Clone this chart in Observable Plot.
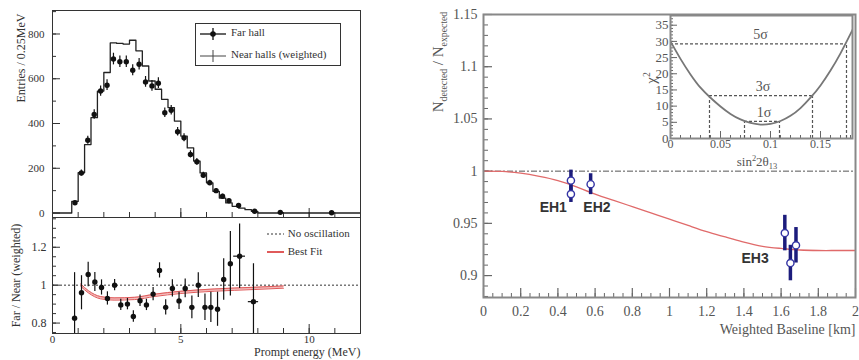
<!DOCTYPE html>
<html><head><meta charset="utf-8">
<script src="https://cdn.jsdelivr.net/npm/d3@7"></script>
<script src="https://cdn.jsdelivr.net/npm/@observablehq/plot@0.6"></script>
<style>
body{margin:0;background:#fff;}
#wrap{position:relative;width:859px;height:360px;overflow:hidden;font-family:"Liberation Serif","DejaVu Serif",serif;color:#333;background:#fff;}
.rot{position:absolute;transform:translate(-50%,-50%) rotate(-90deg);white-space:nowrap;}
.lab{position:absolute;white-space:nowrap;}
sub,sup{font-size:65%;}
</style></head><body><div id="wrap"></div>
<script>
// ---------- DATA ----------
// Left top: near halls (weighted) histogram, bin low edges (MeV) and counts
const nearEdges  = [0, 0.75, 1.0, 1.25, 1.5, 1.75, 2.0, 2.25, 2.5, 2.75, 3.0, 3.25, 3.5, 3.75, 4.0, 4.25, 4.5, 4.75, 5.0, 5.25, 5.5, 5.75, 6.0, 6.25, 6.5, 6.75, 7.0, 7.25, 7.5, 7.75, 8.0];
const nearCounts = [0, 52, 180, 306, 426, 545, 628, 760, 758, 755, 772, 725, 657, 590, 553, 508, 471, 411, 344, 291, 232, 179, 135, 97, 67, 45, 30, 22, 15, 7, 0];
// Far hall points
const farE   = [0.875,1.125,1.375,1.625,1.875,2.125,2.375,2.625,2.875,3.125,3.375,3.625,3.875,4.125,4.375,4.625,4.875,5.125,5.375,5.625,5.875,6.125,6.375,6.625,6.875,7.25,7.875,8.875,10.875];
const farN   = [46,179,325,440,545,571,688,676,676,638,665,586,568,580,448,459,363,336,262,229,169,135,100,75,55,34,8,3,1];
const farErr = [7,13,18,21,23,24,26,26,26,25,26,24,24,24,21,21,19,18,16,15,13,12,10,9,7,6,3,2,1];
const entryTicks = [0,200,400,600,800];
// Left bottom: Far/Near ratio
const ratioE   = [0.86,1.13,1.39,1.65,1.91,2.14,2.42,2.66,2.92,3.15,3.41,3.66,3.92,4.17,4.41,4.67,4.93,5.17,5.43,5.68,5.94,6.17,6.43,6.67,6.93,7.29,7.83];
const ratioV   = [0.826,0.96,1.056,1.017,0.988,0.93,1.0,0.896,0.90,0.835,0.918,0.896,0.953,1.078,0.883,0.983,0.917,0.983,0.883,1.0,0.883,0.883,0.873,1.03,1.113,1.153,0.913];
const ratioErr = [0.24,0.09,0.065,0.05,0.04,0.035,0.03,0.03,0.03,0.03,0.03,0.03,0.035,0.04,0.04,0.045,0.045,0.05,0.06,0.065,0.07,0.08,0.09,0.11,0.17,0.17,0.2];
const ratioHalfBin = [0,0,0,0,0,0,0,0,0,0,0,0,0,0,0,0,0,0,0,0,0,0,0,0,0,0.23,0.2];
const fitE = [1.1,1.4,1.87,2.4,3.2,3.96,5.0,6.3,7.86,9.0];
const fitV = [1.0,0.965,0.934,0.927,0.93,0.946,0.962,0.974,0.983,0.99];
const ratioTicks = [0.8,1,1.2];
const energyTicks = [0,5,10];
// Right: N detected / N expected vs baseline
const curveL = [0,0.1,0.2,0.3,0.4,0.5,0.6,0.7,0.8,0.9,1.0,1.1,1.2,1.3,1.4,1.5,1.6,1.7,1.8,1.9,2.0];
const curveR = [1,0.9997,0.998,0.995,0.991,0.985,0.978,0.972,0.966,0.960,0.954,0.948,0.942,0.937,0.932,0.928,0.926,0.9245,0.924,0.924,0.924];
const hallL   = [0.47,0.47,0.576,1.62,1.65,1.68];
const hallV   = [0.991,0.978,0.9875,0.9407,0.912,0.929];
const hallErr = [0.010,0.008,0.010,0.017,0.017,0.017];
const hallNames = ["EH1","EH2","EH3"];
const hallNameL = [0.375,0.61,1.46];
const hallNameV = [0.965,0.965,0.916];
const baseTicks = [0,0.2,0.4,0.6,0.8,1,1.2,1.4,1.6,1.8,2];
const ratioRTicks = [0.9,0.95,1,1.05,1.1,1.15];
// Inset: chi2 vs sin^2 2theta13
const chiS = [0,0.01,0.02,0.03,0.04,0.05,0.06,0.07,0.08,0.09,0.1,0.11,0.12,0.13,0.14,0.15,0.16,0.17,0.18,0.182];
const chiV = [30,24.6,19.8,15.7,12.6,9.9,7.6,5.9,4.8,4.3,4.5,5.4,7.0,9.4,12.6,16.4,21,26.3,32.3,33.6];
const sigmaNames = ["1σ","3σ","5σ"];
const sigmaChi = [5.26,13.26,29.26];
const sigmaLo = [0.074,0.039,0];
const sigmaHi = [0.109,0.142,0.176];
const chiTicks = [0,5,10,15,20,25,30,35];
const s2Ticks = [0,0.05,0.1,0.15];

// ---------- HELPERS ----------
const wrap = document.getElementById("wrap");
const serif = "'Liberation Serif','DejaVu Serif',serif";
const fmt = d3.format("~g");
function steps(a,b,s){const o=[];for(let i=0;a+i*s<=b+1e-9;i++)o.push(+(a+i*s).toFixed(6));return o;}
function put(node,left,top){node.style.position="absolute";node.style.left=left+"px";node.style.top=top+"px";wrap.appendChild(node);return node;}
function html(s,left,top,cls,style){const d=document.createElement("div");d.className=cls||"lab";d.innerHTML=s;if(style)d.style.cssText+=style;put(d,left,top);return d;}

// ---------- LEFT TOP ----------
{
  const M={l:52,t:10,r:5,b:5,w:365,h:222};
  const xd=[0,12], yd=[-20,905];
  const px=(xd[1]-xd[0])/(M.w-M.l-M.r), py=(yd[1]-yd[0])/(M.h-M.t-M.b);
  const near=nearEdges.map((e,i)=>({x:e,y:nearCounts[i]})).concat([{x:12,y:0}]);
  const far=farE.map((e,i)=>({x:e,y:farN[i],err:farErr[i]}));
  const p=Plot.plot({
    width:M.w,height:M.h,marginLeft:M.l,marginTop:M.t,marginRight:M.r,marginBottom:M.b,
    style:{fontFamily:serif,fontSize:"11px",color:"#333",background:"transparent"},
    x:{domain:xd,axis:null,label:null}, y:{domain:yd,label:null},
    marks:[
      Plot.axisY({ticks:entryTicks,tickSize:0,tickPadding:8,tickFormat:fmt,label:null}),
      Plot.ruleY(entryTicks,{x1:0,x2:8*px,stroke:"#333"}),
      Plot.ruleY(steps(100,900,100),{x1:0,x2:4*px,stroke:"#333"}),
      Plot.ruleX(steps(1,11,1),{y1:yd[0],y2:yd[0]+5*py,stroke:"#333"}),
      Plot.ruleX([5,10],{y1:yd[0],y2:yd[0]+9*py,stroke:"#333"}),
      Plot.line(near,{x:"x",y:"y",curve:"step-after",stroke:"#222",strokeWidth:1.3}),
      Plot.ruleX(far,{x:"x",y1:d=>d.y-d.err,y2:d=>d.y+d.err,stroke:"#111",strokeWidth:1.2}),
      Plot.dot(far,{x:"x",y:"y",r:2.7,fill:"#111"}),
      Plot.text(["Entries / 0.25MeV"],{frameAnchor:"top-left",dx:-36,dy:3,rotate:-90,textAnchor:"end",text:d=>d,fontSize:12,fill:"#333"}),
      Plot.frame({stroke:"#333"})
    ]
  });
  put(p,0,0);
  // legend box
  html(
    `<div style="position:absolute;left:4px;top:3px;"><svg width="30" height="14"><line x1="0" y1="7" x2="26" y2="7" stroke="#111" stroke-width="1.3"/><line x1="13" y1="1" x2="13" y2="13" stroke="#111" stroke-width="1.3"/><circle cx="13" cy="7" r="2.8" fill="#111"/></svg></div>
     <div style="position:absolute;left:35px;top:2px;font-size:11px;">Far hall</div>
     <div style="position:absolute;left:4px;top:25px;"><svg width="30" height="14"><line x1="0" y1="7" x2="26" y2="7" stroke="#444" stroke-width="1"/><line x1="13" y1="1" x2="13" y2="13" stroke="#444" stroke-width="1"/></svg></div>
     <div style="position:absolute;left:35px;top:24px;font-size:11px;">Near halls (weighted)</div>`,
    195,23,"lab","width:146px;height:43px;border:1.3px solid #333;box-sizing:border-box;");
}

// ---------- LEFT BOTTOM ----------
{
  const M={l:52,t:5,r:5,b:29,w:365,h:150};
  const xd=[0,12], yd=[0.745,1.357];
  const px=(xd[1]-xd[0])/(M.w-M.l-M.r), py=(yd[1]-yd[0])/(M.h-M.t-M.b);
  const pts=ratioE.map((e,i)=>({x:e,y:ratioV[i],err:ratioErr[i],hb:ratioHalfBin[i]}));
  const fit=fitE.map((e,i)=>({x:e,y:fitV[i]}));
  const p=Plot.plot({
    width:M.w,height:M.h,marginLeft:M.l,marginTop:M.t,marginRight:M.r,marginBottom:M.b,
    style:{fontFamily:serif,fontSize:"12px",color:"#333",background:"transparent"},
    x:{domain:xd,label:null}, y:{domain:yd,label:null},
    marks:[
      Plot.axisY({ticks:ratioTicks,tickSize:0,tickPadding:6,tickFormat:fmt,label:null}),
      Plot.axisX({ticks:energyTicks,tickSize:0,tickPadding:2,tickFormat:fmt,label:null,fontSize:11}),
      Plot.ruleY(ratioTicks,{x1:0,x2:8*px,stroke:"#333"}),
      Plot.ruleY(steps(0.75,1.35,0.05),{x1:0,x2:4*px,stroke:"#333"}),
      Plot.ruleX(steps(1,11,1),{y1:yd[0],y2:yd[0]+5*py,stroke:"#333"}),
      Plot.ruleX([5,10],{y1:yd[0],y2:yd[0]+9*py,stroke:"#333"}),
      Plot.ruleY([1],{stroke:"#333",strokeDasharray:"2,2"}),
      Plot.areaY(fit,{x:"x",y1:d=>d.y-0.006,y2:d=>d.y+0.006,curve:"monotone-x",fill:"#f2b8b8"}),
      Plot.line(fit,{x:"x",y:d=>d.y-0.006,curve:"monotone-x",stroke:"#e05a5a",strokeWidth:1}),
      Plot.line(fit,{x:"x",y:d=>d.y+0.006,curve:"monotone-x",stroke:"#e05a5a",strokeWidth:1}),
      Plot.ruleX(pts,{x:"x",y1:d=>d.y-d.err,y2:d=>d.y+d.err,stroke:"#111",strokeWidth:1.2,clip:true}),
      Plot.ruleY(pts.filter(d=>d.hb>0),{y:"y",x1:d=>d.x-d.hb,x2:d=>d.x+d.hb,stroke:"#111",strokeWidth:1.2}),
      Plot.dot(pts,{x:"x",y:"y",r:2.7,fill:"#111"}),
      Plot.text(["Far / Near (weighted)"],{frameAnchor:"left",dx:-36,rotate:-90,textAnchor:"middle",text:d=>d,fontSize:12,fill:"#333"}),
      Plot.text(["Prompt energy (MeV)"],{frameAnchor:"bottom-right",dy:22,textAnchor:"end",text:d=>d,fontSize:12,fill:"#333"}),
      Plot.frame({stroke:"#333"})
    ]
  });
  put(p,0,212);
  html(`<svg width="18" height="6" style="vertical-align:middle"><line x1="0" y1="3" x2="17" y2="3" stroke="#333" stroke-dasharray="2,2"/></svg> No oscillation`,267,227,"lab","font-size:11px;");
  html(`<svg width="18" height="6" style="vertical-align:middle"><line x1="0" y1="3" x2="17" y2="3" stroke="#e05a5a" stroke-width="2"/></svg> Best Fit`,267,245,"lab","font-size:11px;");
}

// ---------- RIGHT MAIN ----------
{
  const M={l:63,t:14,r:4,b:63,w:439,h:360};
  const xd=[0,2], yd=[0.879,1.15];
  const px=(xd[1]-xd[0])/(M.w-M.l-M.r), py=(yd[1]-yd[0])/(M.h-M.t-M.b);
  const curve=curveL.map((l,i)=>({x:l,y:curveR[i]}));
  const halls=hallL.map((l,i)=>({x:l,y:hallV[i],err:hallErr[i]}));
  const names=hallNames.map((n,i)=>({n,x:hallNameL[i],y:hallNameV[i]}));
  const p=Plot.plot({
    width:M.w,height:M.h,marginLeft:M.l,marginTop:M.t,marginRight:M.r,marginBottom:M.b,
    style:{fontFamily:serif,fontSize:"14px",color:"#555",background:"transparent"},
    x:{domain:xd,label:null}, y:{domain:yd,label:null},
    marks:[
      Plot.axisY({ticks:ratioRTicks,tickSize:0,tickPadding:6,tickFormat:fmt,label:null}),
      Plot.axisX({ticks:baseTicks,tickSize:0,tickPadding:9,tickFormat:fmt,label:null}),
      Plot.ruleY(ratioRTicks,{x1:0,x2:9*px,stroke:"#666",strokeWidth:1.2}),
      Plot.ruleY(steps(0.88,1.15,0.01),{x1:0,x2:5*px,stroke:"#666"}),
      Plot.ruleX(baseTicks,{y1:yd[0],y2:yd[0]+9*py,stroke:"#666",strokeWidth:1.2}),
      Plot.ruleX(steps(0,2,0.05),{y1:yd[0],y2:yd[0]+4*py,stroke:"#666"}),
      Plot.ruleY([1],{stroke:"#555",strokeDasharray:"6,2,2,2"}),
      Plot.line(curve,{x:"x",y:"y",curve:"natural",stroke:"#e06a6a",strokeWidth:1.3}),
      Plot.ruleX(halls,{x:"x",y1:d=>d.y-d.err,y2:d=>d.y+d.err,stroke:"#1c1c7c",strokeWidth:3.5}),
      Plot.dot(halls,{x:"x",y:"y",r:3.6,fill:"#fff",stroke:"#3434a4",strokeWidth:1.4}),
      Plot.text(names,{x:"x",y:"y",text:"n",fontFamily:"'Liberation Sans',Arial,sans-serif",fontWeight:"bold",fontSize:14,fill:"#333"}),
      Plot.text(["Weighted Baseline [km]"],{frameAnchor:"bottom-right",dy:36,textAnchor:"end",text:d=>d,fontSize:14,fill:"#555"}),
      Plot.frame({stroke:"#888",strokeWidth:2})
    ]
  });
  put(p,420,0);
  html(`N<sub>detected</sub> / N<sub>expected</sub>`,439,62,"rot","font-size:15px;color:#555;");
}

// ---------- INSET ----------
{
  const M={l:40,t:15,r:4,b:27,w:226,h:165};
  const xd=[0,0.182], yd=[0,38];
  const px=(xd[1]-xd[0])/(M.w-M.l-M.r), py=(yd[1]-yd[0])/(M.h-M.t-M.b);
  const chi=chiS.map((s,i)=>({x:s,y:chiV[i]}));
  const lv=sigmaNames.map((n,i)=>({n,y:sigmaChi[i],lo:sigmaLo[i],hi:sigmaHi[i]}));
  const verts=lv.flatMap(d=>d.lo>0?[{x:d.lo,y:d.y},{x:d.hi,y:d.y}]:[{x:d.hi,y:d.y}]);
  const p=Plot.plot({
    width:M.w,height:M.h,marginLeft:M.l,marginTop:M.t,marginRight:M.r,marginBottom:M.b,
    style:{fontFamily:serif,fontSize:"13px",color:"#555",background:"transparent"},
    x:{domain:xd,label:null}, y:{domain:yd,label:null},
    marks:[
      Plot.axisY({ticks:chiTicks,tickSize:0,tickPadding:2,tickFormat:fmt,label:null}),
      Plot.axisX({ticks:s2Ticks,tickSize:0,tickPadding:1,tickFormat:fmt,label:null,fontSize:12}),
      Plot.ruleY(chiTicks,{x1:0,x2:7*px,stroke:"#666"}),
      Plot.ruleY(steps(1,38,1),{x1:0,x2:3*px,stroke:"#666"}),
      Plot.ruleX(s2Ticks,{y1:0,y2:7*py,stroke:"#666"}),
      Plot.ruleX(steps(0,0.18,0.01),{y1:0,y2:3*py,stroke:"#666"}),
      Plot.ruleY(lv,{y:"y",x1:"lo",x2:"hi",stroke:"#555",strokeDasharray:"3,2",strokeWidth:1.2}),
      Plot.ruleX(verts,{x:"x",y1:0,y2:"y",stroke:"#555",strokeDasharray:"3,2",strokeWidth:1.2}),
      Plot.line(chi,{x:"x",y:"y",curve:"natural",stroke:"#777",strokeWidth:1.8,clip:true}),
      Plot.text(lv,{x:d=>(d.lo+d.hi)/2+0.002,y:"y",dy:-9,text:"n",fontSize:14,fill:"#555"}),
      Plot.frame({stroke:"#888",strokeWidth:2})
    ]
  });
  put(p,630,0);
  html(`χ<sup>2</sup>`,650,78,"rot","font-size:15px;color:#555;");
  html(`sin<sup>2</sup>2θ<sub>13</sub>`,757,162,"rot","font-size:13px;color:#555;transform:translate(-50%,-50%);");
}
</script></body></html>
